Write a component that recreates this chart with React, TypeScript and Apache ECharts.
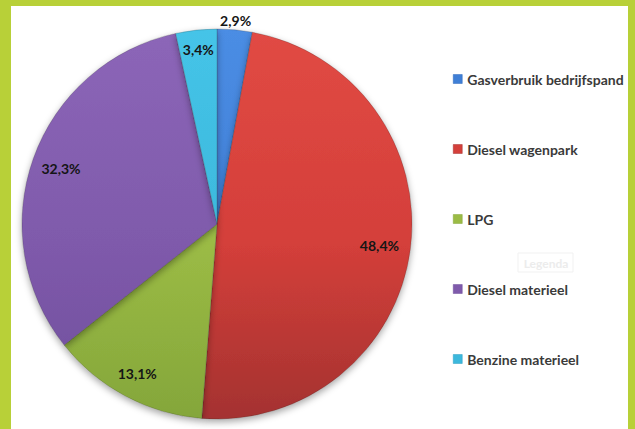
import React, { useEffect, useRef } from "react";
import * as echarts from "echarts";

const categories = [
  "Gasverbruik bedrijfspand",
  "Diesel wagenpark",
  "LPG",
  "Diesel materieel",
  "Benzine materieel",
];
const shares = [2.9, 48.4, 13.1, 32.3, 3.4];
const baseColors = ["#3f7fd6", "#d43f3a", "#9bbb45", "#7f5aab", "#3cb8dc"];
const topColors = ["#4b8de4", "#e14a44", "#b6d852", "#8c66b8", "#45c4e8"];
const bottomColors = ["#2f69bd", "#a43230", "#84a63a", "#6f4e9c", "#2d9fc2"];
// relative radius at which each percentage label sits
const labelRadius = [1.05, 0.84, 0.87, 0.85, 0.9];

const CX = 217;
const CY = 224;
const R = 195;

export default function App() {
  const ref = useRef<HTMLDivElement>(null);
  useEffect(() => {
    document.body.style.margin = "0";
    const chart = echarts.init(ref.current!, undefined, { renderer: "svg" });
    const grad = (i: number) =>
      new echarts.graphic.LinearGradient(
        0,
        CY - R,
        0,
        CY + R,
        [
          { offset: 0, color: topColors[i] },
          { offset: 0.55, color: baseColors[i] },
          { offset: 1, color: bottomColors[i] },
        ],
        true
      );
    chart.setOption({
      animation: false,
      backgroundColor: "#b8d038",
      graphic: [
        {
          type: "rect",
          z: -10,
          shape: { x: 11, y: 6, width: 617, height: 430 },
          style: { fill: "#ffffff" },
          silent: true,
        },
        {
          type: "rect",
          shape: { x: 518, y: 253, width: 55, height: 19 },
          style: { fill: "none", stroke: "#f1f1f1", lineWidth: 1 },
          silent: true,
        },
        {
          type: "text",
          x: 546,
          y: 263,
          style: {
            text: "Legenda",
            fill: "#ececec",
            font: "bold 12px Lato",
            align: "center",
            verticalAlign: "middle",
          },
          silent: true,
        },
      ],
      legend: {
        orient: "vertical",
        left: 448,
        top: 67,
        itemGap: 56,
        itemWidth: 9,
        itemHeight: 9,
        icon: "rect",
        selectedMode: false,
        textStyle: {
          fontFamily: "Lato",
          fontWeight: "bold",
          fontSize: 14,
          lineHeight: 14,
          color: "#3a3a3a",
        },
        data: categories.map((name, i) => ({
          name,
          itemStyle: { color: baseColors[i], borderColor: bottomColors[i], borderWidth: 0.5 },
        })),
      },
      series: [
        {
          type: "pie",
          center: [CX, CY],
          radius: [0, R],
          startAngle: 90,
          clockwise: true,
          silent: true,
          itemStyle: {
            borderColor: "rgba(40,40,40,0.35)",
            borderWidth: 0.6,
            shadowBlur: 7,
            shadowOffsetY: 3,
            shadowColor: "rgba(0,0,0,0.35)",
          },
          label: {
            show: true,
            position: "inside",
            fontFamily: "Lato",
            fontWeight: "bold",
            fontSize: 14,
            color: "#151515",
            formatter: (p: any) => p.value.toFixed(1).replace(".", ",") + "%",
          },
          labelLine: { show: false },
          labelLayout: (params: any) => {
            const r = params.labelRect;
            const lx = r.x + r.width / 2;
            const ly = r.y + r.height / 2;
            const dx = lx - CX;
            const dy = ly - CY;
            const d = Math.hypot(dx, dy) || 1;
            const f = labelRadius[params.dataIndex] * R;
            return {
              x: CX + (dx / d) * f,
              y: CY + (dy / d) * f,
              align: "center",
              verticalAlign: "middle",
            };
          },
          data: categories.map((name, i) => ({
            name,
            value: shares[i],
            itemStyle: { color: grad(i) },
          })),
        },
      ],
    });
    return () => chart.dispose();
  }, []);
  return <div ref={ref} style={{ width: 635, height: 429 }} />;
}
